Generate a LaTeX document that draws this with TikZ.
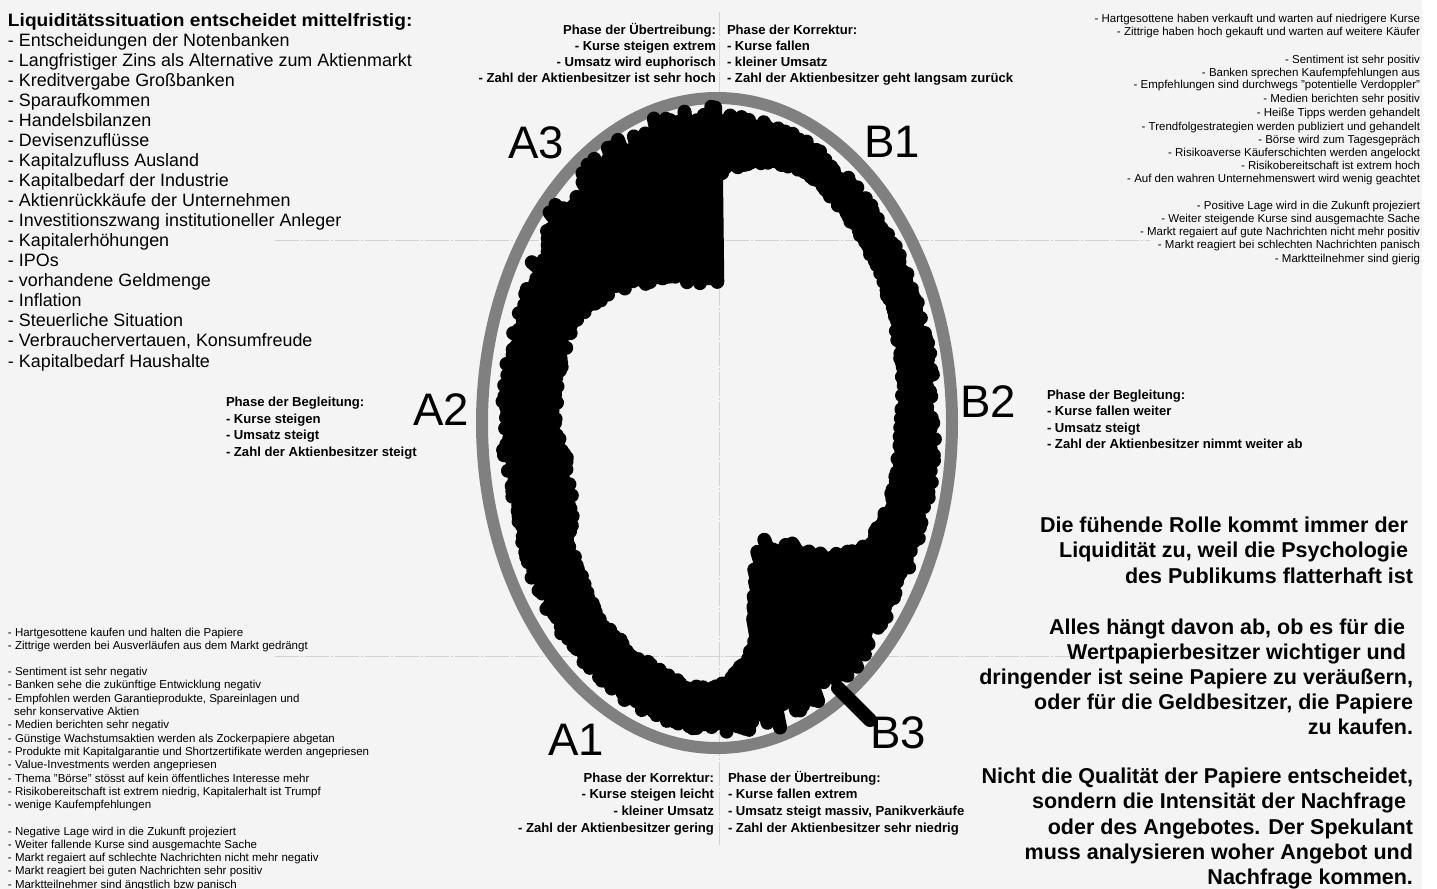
\documentclass[tikz,border=0pt]{standalone}
\usepackage{fontspec}
\setmainfont{Liberation Sans}
\newfontfamily\wideboldfont[FakeStretch=1.07]{Liberation Sans Bold}
\definecolor{bggray}{HTML}{F4F4F4}
\definecolor{ringgray}{HTML}{808080}
\definecolor{guidegray}{HTML}{D2D2D2}
\begin{document}
\begin{tikzpicture}[x=0.5pt,y=-0.5pt,
  every node/.style={inner sep=0pt,outer sep=0pt},
  lst/.style={font=\fontsize{8.95}{10}\selectfont},
  lsth/.style={font=\wideboldfont\fontsize{8.95}{10}\selectfont},
  sml/.style={font=\fontsize{5.75}{6.6}\selectfont},
  ph/.style={font=\bfseries\fontsize{6.55}{8}\selectfont},
  big/.style={font=\fontsize{22.8}{24}\selectfont},
  rt/.style={font=\bfseries\fontsize{10.75}{12.6}\selectfont},
  scrib/.style={line width=7pt, line cap=round, draw=black},
  ring/.style={line width=6pt, draw=ringgray},
  guide/.style={draw=guidegray, line width=0.5pt, dash pattern=on 12pt off 1pt on 1pt off 1pt}]
\useasboundingbox (0,0) rectangle (1437,889);
\fill[white] (0,0) rectangle (1437,889);
\fill[bggray] (0,0) rectangle (1422,889);
% guide lines
\draw[guide] (719,12) -- (719,845);
\draw[guide] (275,240) -- (1150,240);
\draw[guide] (275,656) -- (1150,656);
% grey ring
\draw[ring] (717,423) ellipse [x radius=235, y radius=325];
% black scribble ring
\def\T{{50,36,26,22,22,22,22,23,25,28,30,33,42,75,122,145,144,62,38,34,38,38,38,40,45,55,55,46,46,50,58,80,104,122,137,146,152}}
\def\J{{5,5,5,5,5,5,5,5,5,5,5,5,5,8,16,16,16,8,5,5,5,5,5,5,5,5,5,5,5,5,8,16,16,16,16,16,16}}
\pgfmathsetseed{12}
\foreach \a in {0,1,...,359}{
  \pgfmathtruncatemacro{\ii}{\a/10}
  \pgfmathsetmacro{\dd}{\T[\ii]+(\T[\ii+1]-\T[\ii])*(\a-10*\ii)/10}
  \pgfmathsetmacro{\jj}{\J[\ii]}
  \pgfmathsetmacro{\qx}{212*sin(\a)}
  \pgfmathsetmacro{\qy}{-303*cos(\a)}
  \pgfmathsetmacro{\vl}{veclen(\qx,\qy)}
  \pgfmathsetmacro{\ux}{\qx/\vl}
  \pgfmathsetmacro{\uy}{\qy/\vl}
  \pgfmathsetmacro{\ro}{\jj*rand}
  \pgfmathsetmacro{\ri}{\dd*(1+0.1*rand)}
  \draw[scrib] ({719+\qx+\ux*\ro},{423+\qy+\uy*\ro}) -- ({719+\qx-\ux*\ri},{423+\qy-\uy*\ri});
}
\coordinate (tailA) at (838,688);
\coordinate (tailB) at (870,720);
\draw[scrib] (tailA) -- (tailB);
% big labels
\node[big,anchor=base west] (A3) at (508,158) {A3};
\node[big,anchor=base west] (B1) at (864,157) {B1};
\node[big,anchor=base west] (A2) at (413,425) {A2};
\node[big,anchor=base west] (B2) at (960,417) {B2};
\node[big,anchor=base west] (A1) at (548,755) {A1};
\node[big,anchor=base west] (B3) at (870,748) {B3};
% left list
\node[lsth,anchor=base west] (head) at (8,26) {Liquiditätssituation entscheidet mittelfristig:};
\foreach \t [count=\i] in {{- Entscheidungen der Notenbanken},{- Langfristiger Zins als Alternative zum Aktienmarkt},{- Kreditvergabe Großbanken},{- Sparaufkommen},{- Handelsbilanzen},{- Devisenzuflüsse},{- Kapitalzufluss Ausland},{- Kapitalbedarf der Industrie},{- Aktienrückkäufe der Unternehmen},{- Investitionszwang institutioneller Anleger},{- Kapitalerhöhungen},{- IPOs},{- vorhandene Geldmenge},{- Inflation},{- Steuerliche Situation},{- Verbrauchervertauen, Konsumfreude},{- Kapitalbedarf Haushalte}}
  \node[lst,anchor=base west] (li\i) at (8,{26+20.06*\i}) {\t};
% top right small block
\foreach \y/\t [count=\i] in {18/{- Hartgesottene haben verkauft und warten auf niedrigere Kurse},31/{- Zittrige haben hoch gekauft und warten auf weitere Käufer},59/{- Sentiment ist sehr positiv},72/{- Banken sprechen Kaufempfehlungen aus},84/{- Empfehlungen sind durchwegs "potentielle Verdoppler"},98/{- Medien berichten sehr positiv},112/{- Heiße Tipps werden gehandelt},126/{- Trendfolgestrategien werden publiziert und gehandelt},139/{- Börse wird zum Tagesgepräch},152/{- Risikoaverse Käuferschichten werden angelockt},165/{- Risikobereitschaft ist extrem hoch},178/{- Auf den wahren Unternehmenswert wird wenig geachtet},205/{- Positive Lage wird in die Zukunft projeziert},218/{- Weiter steigende Kurse sind ausgemachte Sache},231/{- Markt regaiert auf gute Nachrichten nicht mehr positiv},244/{- Markt reagiert bei schlechten Nachrichten panisch},258/{- Marktteilnehmer sind gierig}}
  \node[sml,anchor=base east] (tr\i) at (1420,\y+4) {\t};
% bottom left small block
\foreach \y/\x/\t [count=\i] in {632/8/{- Hartgesottene kaufen und halten die Papiere},645/8/{- Zittrige werden bei Ausverläufen aus dem Markt gedrängt},671/8/{- Sentiment ist sehr negativ},684/8/{- Banken sehe die zukünftige Entwicklung negativ},698/8/{- Empfohlen werden Garantieprodukte, Spareinlagen und},711/14/{sehr konservative Aktien},724/8/{- Medien berichten sehr negativ},738/8/{- Günstige Wachstumsaktien werden als Zockerpapiere abgetan},751/8/{- Produkte mit Kapitalgarantie und Shortzertifikate werden angepriesen},764/8/{- Value-Investments werden angepriesen},778/8/{- Thema "Börse" stösst auf kein öffentliches Interesse mehr},791/8/{- Risikobereitschaft ist extrem niedrig, Kapitalerhalt ist Trumpf},804/8/{- wenige Kaufempfehlungen},831/8/{- Negative Lage wird in die Zukunft projeziert},844/8/{- Weiter fallende Kurse sind ausgemachte Sache},857/8/{- Markt regaiert auf schlechte Nachrichten nicht mehr negativ},870/8/{- Markt reagiert bei guten Nachrichten sehr positiv},884/8/{- Marktteilnehmer sind ängstlich bzw panisch}}
  \node[sml,anchor=base west] (bl\i) at (\x,\y+4) {\t};
% phase blocks
\foreach \y/\t [count=\i] in {29/{Phase der Übertreibung:},45/{- Kurse steigen extrem},61/{- Umsatz wird euphorisch},77/{- Zahl der Aktienbesitzer ist sehr hoch}}
  \node[ph,anchor=base east] (pa\i) at (716,\y+5) {\t};
\foreach \y/\t [count=\i] in {29/{Phase der Korrektur:},45/{- Kurse fallen},61/{- kleiner Umsatz},77/{- Zahl der Aktienbesitzer geht langsam zurück}}
  \node[ph,anchor=base west] (pb\i) at (727,\y+5) {\t};
\foreach \y/\t [count=\i] in {777/{Phase der Korrektur:},793/{- Kurse steigen leicht},810/{- kleiner Umsatz},827/{- Zahl der Aktienbesitzer gering}}
  \node[ph,anchor=base east] (pc\i) at (714,\y+5) {\t};
\foreach \y/\t [count=\i] in {777/{Phase der Übertreibung:},793/{- Kurse fallen extrem},810/{- Umsatz steigt massiv, Panikverkäufe},827/{- Zahl der Aktienbesitzer sehr niedrig}}
  \node[ph,anchor=base west] (pd\i) at (728,\y+5) {\t};
\foreach \y/\t [count=\i] in {401/{Phase der Begleitung:},418/{- Kurse steigen},434/{- Umsatz steigt},451/{- Zahl der Aktienbesitzer steigt}}
  \node[ph,anchor=base west] (pe\i) at (226,\y+5) {\t};
\foreach \y/\t [count=\i] in {394/{Phase der Begleitung:},410/{- Kurse fallen weiter},427/{- Umsatz steigt},443/{- Zahl der Aktienbesitzer nimmt weiter ab}}
  \node[ph,anchor=base west] (pf\i) at (1047,\y+5) {\t};
% right big text
\foreach \y/\x/\t [count=\i] in {525/1408/{Die fühende Rolle kommt immer der},550/1408/{Liquidität zu, weil die Psychologie},576/1413/{des Publikums flatterhaft ist},627/1405/{Alles hängt davon ab, ob es für die},652/1406/{Wertpapierbesitzer wichtiger und},677/1413/{dringender ist seine Papiere zu veräußern,},702/1413/{oder für die Geldbesitzer, die Papiere},727/1413/{zu kaufen.},776/1413/{Nicht die Qualität der Papiere entscheidet,},801/1406/{sondern die Intensität der Nachfrage},827/1413/{oder des Angebotes. Der Spekulant},852/1413/{muss analysieren woher Angebot und},877/1413/{Nachfrage kommen.}}
  \node[rt,anchor=base east] (rt\i) at (\x,\y+7) {\t};
\end{tikzpicture}
\end{document}
